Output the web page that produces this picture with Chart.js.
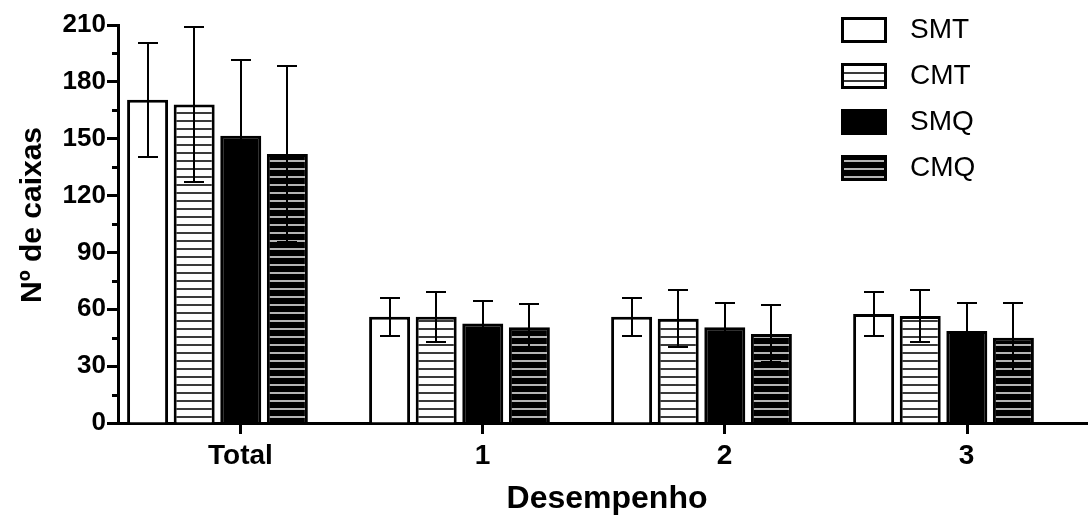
<!DOCTYPE html>
<html>
<head>
<meta charset="utf-8">
<script src="https://cdn.jsdelivr.net/npm/chart.js@4/dist/chart.umd.min.js"></script>
<style>
  html, body { margin: 0; padding: 0; background: #fff; }
  #c { display: block; }
</style>
</head>
<body>
<canvas id="c" width="1088" height="515"></canvas>
<script>
// Nº de caixas por desempenho (média ± desvio)
const categories = ['Total', '1', '2', '3'];
const seriesNames = ['SMT', 'CMT', 'SMQ', 'CMQ'];

const smt    = [170.5, 56, 56, 57.5];
const smtErr = [30, 10, 10, 11.5];
const cmt    = [168, 56, 55, 56.5];
const cmtErr = [41, 13, 15, 13.5];
const smq    = [151.5, 52.5, 50.5, 48.5];
const smqErr = [40, 12, 13, 15];
const cmq    = [142, 50.5, 47, 45];
const cmqErr = [46.5, 12.5, 15, 18.5];

const yTicks = [0, 30, 60, 90, 120, 150, 180, 210];

const values = [smt, cmt, smq, cmq];
const errors = [smtErr, cmtErr, smqErr, cmqErr];

const FONT = "'Liberation Sans', Arial, sans-serif";
const canvas = document.getElementById('c');
const ctx = canvas.getContext('2d');

// horizontal hatch fills
function stripes(bg, line, period, thick) {
  const t = document.createElement('canvas');
  t.width = 8; t.height = period;
  const g = t.getContext('2d');
  g.fillStyle = bg; g.fillRect(0, 0, 8, period);
  g.fillStyle = line; g.fillRect(0, 0, 8, thick);
  return ctx.createPattern(t, 'repeat');
}
const fills = [
  '#ffffff',
  stripes('#ffffff', '#3a3a3a', 8, 2),
  '#000000',
  stripes('#000000', '#b4b4b4', 8, 2)
];

// label ticks sit slightly right of each group's centre
const TICK_SHIFT = 0.095;

const errorBars = {
  id: 'errorBars',
  afterDatasetsDraw(chart) {
    const y = chart.scales.y;
    const c = chart.ctx;
    c.save();
    c.strokeStyle = '#000';
    c.lineWidth = 2;
    chart.data.datasets.forEach((ds, i) => {
      const meta = chart.getDatasetMeta(i);
      meta.data.forEach((bar, j) => {
        const v = values[i][j], e = errors[i][j];
        const yt = Math.round(y.getPixelForValue(v + e));
        const yb = Math.round(y.getPixelForValue(v - e));
        const x = Math.round(bar.x);
        c.beginPath();
        c.moveTo(x, yt); c.lineTo(x, yb);
        c.moveTo(x - 10, yt); c.lineTo(x + 10, yt);
        c.moveTo(x - 10, yb); c.lineTo(x + 10, yb);
        c.stroke();
      });
    });
    c.restore();
  }
};

const extras = {
  id: 'extras',
  afterDraw(chart) {
    const c = chart.ctx;
    const x = chart.scales.x;
    const y = chart.scales.y;
    const area = chart.chartArea;
    c.save();
    c.strokeStyle = '#000';
    c.lineWidth = 3;
    // minor ticks on the value axis
    for (let k = 0; k < yTicks.length - 1; k++) {
      const v = (yTicks[k] + yTicks[k + 1]) / 2;
      const py = Math.round(y.getPixelForValue(v)) + 0.5;
      c.beginPath();
      c.moveTo(area.left - 6, py); c.lineTo(area.left, py);
      c.stroke();
    }
    // category tick marks below the base line
    x.ticks.forEach((t, i) => {
      const px = Math.round(x.getPixelForTick(i)) + 0.5;
      c.beginPath();
      c.moveTo(px, area.bottom); c.lineTo(px, area.bottom + 11);
      c.stroke();
    });
    // axis titles
    c.fillStyle = '#000';
    c.textAlign = 'center';
    c.textBaseline = 'alphabetic';
    c.font = 'bold 32px ' + FONT;
    c.fillText('Desempenho', 607, 508);
    c.font = 'bold 30px ' + FONT;
    c.translate(41, 215);
    c.rotate(-Math.PI / 2);
    c.fillText('Nº de caixas', 0, 0);
    c.restore();

    // legend
    c.save();
    c.font = '28px ' + FONT;
    c.textAlign = 'left';
    c.textBaseline = 'middle';
    chart.data.datasets.forEach((ds, i) => {
      const cy = 30 + i * 46;
      const bx = 841, bw = 46, bh = 26, by = cy - bh / 2;
      c.fillStyle = '#000';
      c.fillRect(bx, by, bw, bh);
      c.fillStyle = ds.backgroundColor;
      c.fillRect(bx + 3, by + 3, bw - 6, bh - 6);
      c.fillStyle = '#000';
      c.fillText(ds.label, 910, cy);
    });
    c.restore();
  }
};

new Chart(canvas, {
  type: 'bar',
  data: {
    datasets: seriesNames.map((name, i) => ({
      label: name,
      data: values[i].map((v, j) => ({ x: j, y: v })),
      backgroundColor: fills[i],
      borderColor: '#000',
      borderWidth: 3,
      borderSkipped: 'bottom',
      categoryPercentage: 0.77,
      barPercentage: 0.88
    }))
  },
  options: {
    responsive: false,
    animation: false,
    devicePixelRatio: 1,
    layout: { padding: { top: 25, left: 0, right: 0, bottom: 0 } },
    plugins: { legend: { display: false }, tooltip: { enabled: false } },
    scales: {
      x: {
        type: 'linear',
        offset: false,
        bounds: 'data',
        min: -0.411,
        max: 3.597,
        afterBuildTicks(scale) {
          scale.ticks = categories.map((_, i) => ({ value: i + TICK_SHIFT }));
        },
        afterFit(scale) { scale.height = 92; },
        ticks: {
          autoSkip: false,
          maxRotation: 0,
          padding: 8,
          color: '#000',
          font: { family: FONT, size: 28, weight: 'bold' },
          callback: (val, idx) => categories[idx]
        },
        grid: { display: false, offset: false },
        border: { display: true, color: '#000', width: 3 }
      },
      y: {
        min: 0,
        max: 210,
        afterBuildTicks(scale) {
          scale.ticks = yTicks.map(v => ({ value: v }));
        },
        afterFit(scale) { scale.width = 118; },
        ticks: {
          padding: 1,
          color: '#000',
          font: { family: FONT, size: 26, weight: 'bold' }
        },
        grid: {
          drawOnChartArea: false,
          tickLength: 11,
          tickWidth: 3,
          tickColor: '#000'
        },
        border: { display: true, color: '#000', width: 3 }
      }
    }
  },
  plugins: [errorBars, extras]
});
</script>
</body>
</html>
